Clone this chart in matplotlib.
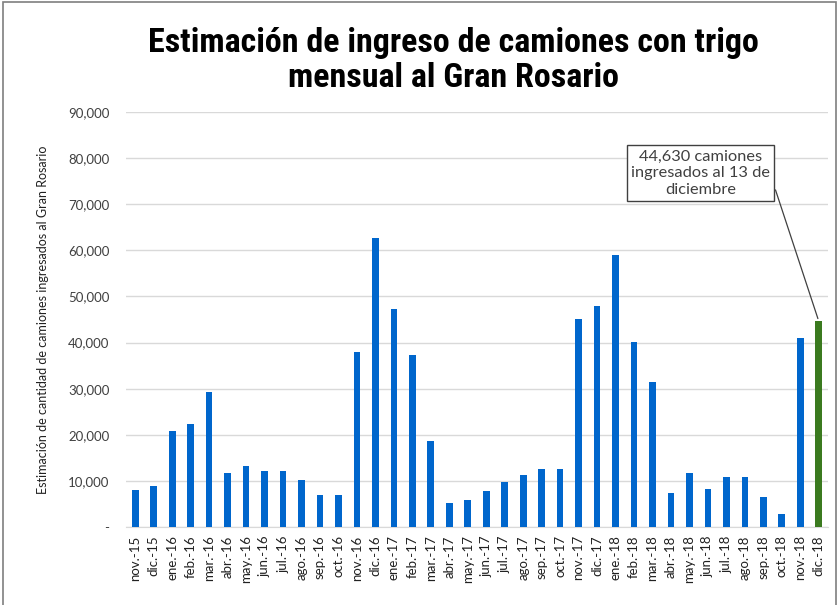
import matplotlib
matplotlib.use('Agg')
import matplotlib.pyplot as plt
from matplotlib.patches import Rectangle

months = ['nov.-15', 'dic.-15',
          'ene.-16', 'feb.-16', 'mar.-16', 'abr.-16', 'may.-16', 'jun.-16',
          'jul.-16', 'ago.-16', 'sep.-16', 'oct.-16', 'nov.-16', 'dic.-16',
          'ene.-17', 'feb.-17', 'mar.-17', 'abr.-17', 'may.-17', 'jun.-17',
          'jul.-17', 'ago.-17', 'sep.-17', 'oct.-17', 'nov.-17', 'dic.-17',
          'ene.-18', 'feb.-18', 'mar.-18', 'abr.-18', 'may.-18', 'jun.-18',
          'jul.-18', 'ago.-18', 'sep.-18', 'oct.-18', 'nov.-18', 'dic.-18']
trucks = [8100, 8800, 20900, 22300, 29200, 11800, 13200, 12100,
          12100, 10300, 6900, 6900, 38000, 62700, 47300, 37400,
          18600, 5100, 5900, 7700, 9700, 11300, 12600, 12600,
          45100, 48000, 59000, 40100, 31400, 7400, 11800, 8300,
          10800, 10800, 6500, 2800, 40900, 44630]
yticks = [0, 10000, 20000, 30000, 40000, 50000, 60000, 70000, 80000, 90000]
ytick_labels = ['-', '10,000', '20,000', '30,000', '40,000', '50,000',
                '60,000', '70,000', '80,000', '90,000']

blue = '#0066CC'
green = '#3B7A1F'
colors = [blue] * (len(trucks) - 1) + [green]

fig = plt.figure(figsize=(8.39, 6.05), dpi=100)
ax = fig.add_axes([126 / 839, 1 - 527 / 605, (828 - 126) / 839, (527 - 112) / 605])

x = range(len(months))
ax.bar(x, trucks, width=0.36, color=colors, zorder=3)

ax.set_xlim(-0.5, len(months) - 0.5)
ax.set_ylim(0, 90000)
ax.set_yticks(yticks)
ax.set_yticklabels(ytick_labels, fontsize=9.5, family='Lato', color='#404040')
ax.set_xticks(list(x))
ax.set_xticklabels(months, rotation=90, fontsize=9.5, family='Lato', color='#202020')
ax.tick_params(length=0)
ax.tick_params(axis='y', pad=12)
ax.tick_params(axis='x', pad=6)
ax.grid(axis='y', color='#D9D9D9', linewidth=1, zorder=0)
for s in ['top', 'right', 'left']:
    ax.spines[s].set_visible(False)
ax.spines['bottom'].set_color('#D9D9D9')

ax.set_ylabel('Estimación de cantidad de camiones ingresados al Gran Rosario',
              fontsize=9, family='Lato', color='#202020', labelpad=14)

fig.text(0.54, 0.9, 'Estimación de ingreso de camiones con trigo\nmensual al Gran Rosario',
         ha='center', va='center', fontsize=24.5, fontweight='bold',
         fontstretch='condensed', family=['Roboto Condensed', 'Roboto', 'DejaVu Sans'],
         linespacing=1.15)

last = len(trucks) - 1
ax.annotate('44,630 camiones\ningresados al 13 de\ndiciembre',
            xy=(last, trucks[last]), xytext=(30.6, 76700),
            ha='center', va='center', fontsize=11.8, family='Lato', color='#404040',
            linespacing=1.25,
            bbox=dict(boxstyle='square,pad=0.25', fc='white', ec='#404040', lw=1),
            arrowprops=dict(arrowstyle='-', color='#404040', lw=0.9,
                            relpos=(1.0, 0.5)), zorder=5)

fig.patches.append(Rectangle((0.003, -0.01), 0.993, 1.007, transform=fig.transFigure,
                             fill=False, ec='#7F7F7F', lw=1.2))

fig.savefig('out.png', dpi=100)
